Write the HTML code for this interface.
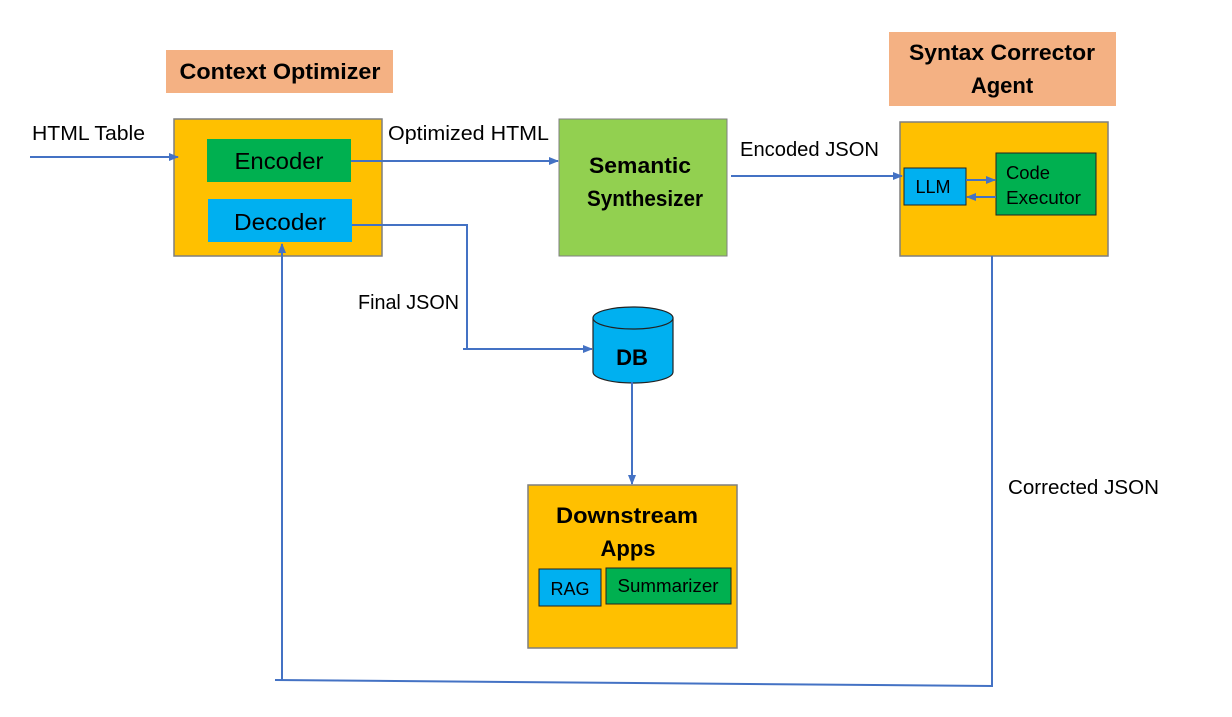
<!DOCTYPE html>
<html><head><meta charset="utf-8"><style>
html,body{margin:0;padding:0;background:#fff;}
svg{display:block;}
text{font-family:"Liberation Sans",sans-serif;}
</style></head><body>
<svg width="1232" height="717" viewBox="0 0 1232 717" xmlns="http://www.w3.org/2000/svg">
<defs>
<marker id="a" markerWidth="10" markerHeight="8" refX="9" refY="4" orient="auto" markerUnits="userSpaceOnUse">
<path d="M0,0 L10,4 L0,8 Z" fill="#4472c4"/></marker>
</defs>
<rect x="166" y="50" width="227" height="43" fill="#f4b183"/>
<text x="280" y="79" text-anchor="middle" font-size="22" font-weight="bold" textLength="201" lengthAdjust="spacingAndGlyphs">Context Optimizer</text>
<rect x="889" y="32" width="227" height="74" fill="#f4b183"/>
<text x="1002" y="60" text-anchor="middle" font-size="22" font-weight="bold" textLength="186" lengthAdjust="spacingAndGlyphs">Syntax Corrector</text>
<text x="1002" y="93" text-anchor="middle" font-size="22" font-weight="bold">Agent</text>
<rect x="174" y="119" width="208" height="137" fill="#ffc000" stroke="#7f7f7f" stroke-width="1.5"/>
<rect x="207" y="139" width="144" height="43" fill="#00b050"/>
<text x="279" y="169" text-anchor="middle" font-size="23" textLength="89" lengthAdjust="spacingAndGlyphs">Encoder</text>
<rect x="208" y="199" width="144" height="43" fill="#00b0f0"/>
<text x="280" y="230" text-anchor="middle" font-size="23" textLength="92" lengthAdjust="spacingAndGlyphs">Decoder</text>
<rect x="559" y="119" width="168" height="137" fill="#92d050" stroke="#7f7f7f" stroke-width="1"/>
<text x="640" y="173" text-anchor="middle" font-size="22" font-weight="bold" textLength="102" lengthAdjust="spacingAndGlyphs">Semantic</text>
<text x="645" y="206" text-anchor="middle" font-size="22" font-weight="bold" textLength="116" lengthAdjust="spacingAndGlyphs">Synthesizer</text>
<rect x="900" y="122" width="208" height="134" fill="#ffc000" stroke="#7f7f7f" stroke-width="1.5"/>
<rect x="904" y="168" width="62" height="37" fill="#00b0f0" stroke="#222" stroke-width="1"/>
<text x="933" y="193" text-anchor="middle" font-size="18">LLM</text>
<rect x="996" y="153" width="100" height="62" fill="#00b050" stroke="#222" stroke-width="1"/>
<text x="1006" y="179" font-size="18" textLength="44" lengthAdjust="spacingAndGlyphs">Code</text>
<text x="1006" y="204" font-size="18" textLength="75" lengthAdjust="spacingAndGlyphs">Executor</text>
<line x1="966" y1="180" x2="995" y2="180" stroke="#4472c4" stroke-width="2" marker-end="url(#a)"/>
<line x1="996" y1="197" x2="967" y2="197" stroke="#4472c4" stroke-width="2" marker-end="url(#a)"/>
<path d="M593,318 L593,372 A40,11 0 0 0 673,372 L673,318" fill="#00b0f0" stroke="#222" stroke-width="1.2"/>
<ellipse cx="633" cy="318" rx="40" ry="11" fill="#00b0f0" stroke="#222" stroke-width="1.2"/>
<text x="632" y="365" text-anchor="middle" font-size="22" font-weight="bold">DB</text>
<rect x="528" y="485" width="209" height="163" fill="#ffc000" stroke="#7f7f7f" stroke-width="1.5"/>
<text x="627" y="523" text-anchor="middle" font-size="22" font-weight="bold" textLength="142" lengthAdjust="spacingAndGlyphs">Downstream</text>
<text x="628" y="556" text-anchor="middle" font-size="22" font-weight="bold">Apps</text>
<rect x="539" y="569" width="62" height="37" fill="#00b0f0" stroke="#222" stroke-width="1"/>
<text x="570" y="595" text-anchor="middle" font-size="18">RAG</text>
<rect x="606" y="568" width="125" height="36" fill="#00b050" stroke="#222" stroke-width="1"/>
<text x="668" y="592" text-anchor="middle" font-size="18" textLength="101" lengthAdjust="spacingAndGlyphs">Summarizer</text>
<g stroke="#4472c4" stroke-width="2" fill="none">
<line x1="30" y1="157" x2="178" y2="157" marker-end="url(#a)"/>
<line x1="351" y1="161" x2="558" y2="161" marker-end="url(#a)"/>
<polyline points="352,225 467,225 467,349"/>
<line x1="463" y1="349" x2="592" y2="349" marker-end="url(#a)"/>
<line x1="731" y1="176" x2="902" y2="176" marker-end="url(#a)"/>
<line x1="632" y1="382" x2="632" y2="484" marker-end="url(#a)"/>
<polyline points="992,256 992,686 275,680"/>
<line x1="282" y1="680" x2="282" y2="244" marker-end="url(#a)"/>
</g>
<text x="32" y="140" font-size="20" textLength="113" lengthAdjust="spacingAndGlyphs">HTML Table</text>
<text x="388" y="140" font-size="20" textLength="161" lengthAdjust="spacingAndGlyphs">Optimized HTML</text>
<text x="740" y="156" font-size="20" textLength="139" lengthAdjust="spacingAndGlyphs">Encoded JSON</text>
<text x="358" y="309" font-size="20" textLength="101" lengthAdjust="spacingAndGlyphs">Final JSON</text>
<text x="1008" y="494" font-size="20" textLength="151" lengthAdjust="spacingAndGlyphs">Corrected JSON</text>
</svg>
</body></html>
